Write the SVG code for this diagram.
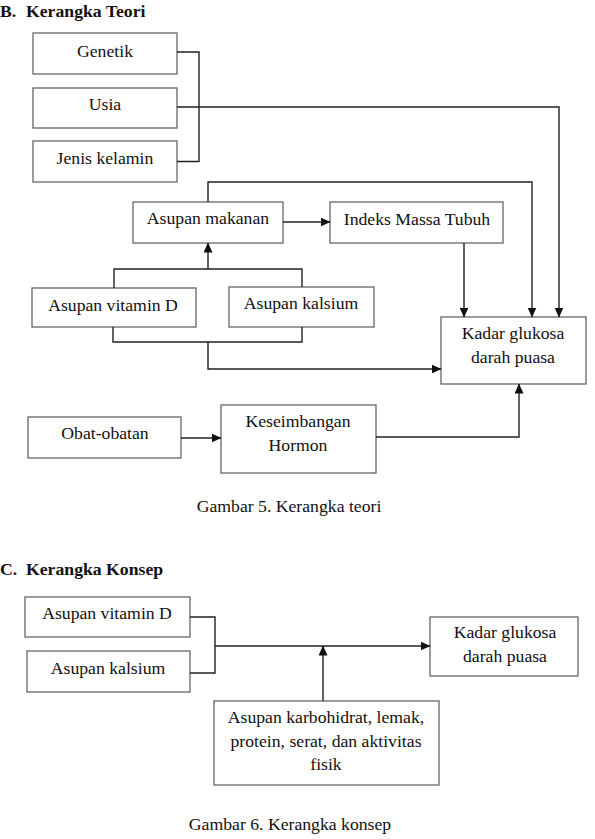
<svg xmlns="http://www.w3.org/2000/svg" width="595" height="839" viewBox="0 0 595 839">
<style>
.box{fill:#fff;stroke:#666;stroke-width:1.3}
.t{font-family:"Liberation Serif","Times New Roman",serif;font-size:17.7px;fill:#111;text-anchor:middle}
.h{font-family:"Liberation Serif","Times New Roman",serif;font-size:17.7px;font-weight:bold;fill:#111}
.c{fill:none;stroke:#222;stroke-width:1.4}
.a{marker-end:url(#arr)}
</style>
<defs>
<marker id="arr" markerUnits="userSpaceOnUse" markerWidth="10" markerHeight="9" refX="9.5" refY="4.5" orient="auto">
<path d="M0,0 L10,4.5 L0,9 z" fill="#111"/>
</marker>
</defs>
<rect width="595" height="839" fill="#fff"/>
<text class="h" x="0" y="17">B.</text>
<text class="h" x="26" y="17">Kerangka Teori</text>

<g id="genetik"><rect class="box" x="33" y="33" width="144" height="41"/><text class="t" x="105" y="57">Genetik</text></g>
<g id="usia"><rect class="box" x="33" y="88" width="144" height="40"/><text class="t" x="105" y="110">Usia</text></g>
<g id="jenis-kelamin"><rect class="box" x="33" y="141" width="144" height="41"/><text class="t" x="105" y="164">Jenis kelamin</text></g>
<g id="asupan-makanan"><rect class="box" x="133" y="202" width="150" height="41"/><text class="t" x="208" y="224">Asupan makanan</text></g>
<g id="imt"><rect class="box" x="330" y="202" width="173" height="41"/><text class="t" x="417" y="225">Indeks Massa Tubuh</text></g>
<g id="asupan-vitd"><rect class="box" x="32" y="288" width="164" height="39"/><text class="t" x="113" y="311">Asupan vitamin D</text></g>
<g id="asupan-kalsium"><rect class="box" x="229" y="287" width="145" height="40"/><text class="t" x="301" y="309">Asupan kalsium</text></g>
<g id="kadar-glukosa"><rect class="box" x="441" y="317" width="145" height="67"/><text class="t" x="513" y="339">Kadar glukosa</text><text class="t" x="513" y="363">darah puasa</text></g>
<g id="obat"><rect class="box" x="28" y="417" width="153" height="41"/><text class="t" x="105" y="439">Obat-obatan</text></g>
<g id="keseimbangan"><rect class="box" x="221" y="405" width="155" height="68"/><text class="t" x="298" y="427">Keseimbangan</text><text class="t" x="298" y="451">Hormon</text></g>

<text class="t" x="289" y="512">Gambar 5. Kerangka teori</text>

<text class="h" x="0" y="575">C.</text>
<text class="h" x="26" y="575">Kerangka Konsep</text>

<g id="k-vitd"><rect class="box" x="25" y="597" width="165" height="40"/><text class="t" x="107" y="619">Asupan vitamin D</text></g>
<g id="k-kalsium"><rect class="box" x="27" y="651" width="163" height="41"/><text class="t" x="108" y="674">Asupan kalsium</text></g>
<g id="k-kadar"><rect class="box" x="430" y="617" width="148" height="59"/><text class="t" x="505" y="638">Kadar glukosa</text><text class="t" x="505" y="662">darah puasa</text></g>
<g id="k-karbo"><rect class="box" x="214" y="701" width="225" height="84"/><text class="t" x="326" y="723">Asupan karbohidrat, lemak,</text><text class="t" x="326" y="747">protein, serat, dan aktivitas</text><text class="t" x="326" y="770">fisik</text></g>

<text class="t" x="290" y="830">Gambar 6. Kerangka konsep</text>

<g id="connectors">
<path class="c" d="M177,52 H199 V161.5 H177"/>
<path class="c a" d="M177,107 H559 V317"/>
<path class="c a" d="M208,202 V182 H532 V317"/>
<path class="c a" d="M283,222 H330"/>
<path class="c a" d="M464,243 V317"/>
<path class="c" d="M114,288 V269 H302 V287"/>
<path class="c a" d="M208,269 V243"/>
<path class="c" d="M113,327 V342 H302 V327"/>
<path class="c a" d="M208,342 V369 H441"/>
<path class="c a" d="M181,438 H221"/>
<path class="c a" d="M376,437 H519 V384"/>
<path class="c" d="M190,617 H215 V673 H190"/>
<path class="c a" d="M215,646 H430"/>
<path class="c a" d="M323,701 V646"/>
</g>
</svg>
